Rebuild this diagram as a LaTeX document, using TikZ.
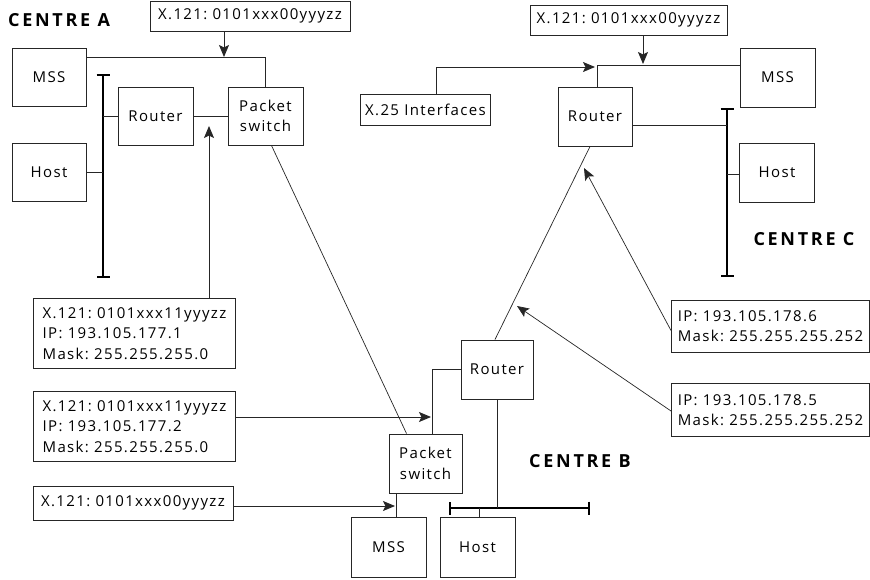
\documentclass[tikz,border=0pt]{standalone}
\usepackage{fontspec}
\setmainfont{Open Sans}[LetterSpace=9]
\usetikzlibrary{arrows.meta,calc}
\tikzset{
  x=1pt, y=-1pt,
  bx/.style={draw=black!85, line width=1pt, inner sep=0pt, align=center,
    font=\fontsize{15}{20.3}\selectfont},
  tb/.style={bx, anchor=north west, align=left},
  ln/.style={draw=black!85, line width=0.9pt},
  arr/.style={ln, -{Stealth[length=12pt,width=10pt,inset=2.5pt]}},
  bus/.style={line width=2.6pt, {Bar[width=13pt,line width=1.8pt]}-{Bar[width=13pt,line width=1.8pt]}},
  lbl/.style={font=\fontsize{18}{22}\bfseries\addfontfeature{LetterSpace=15}\selectfont, inner sep=0pt}
}
\begin{document}
\frenchspacing
\begin{tikzpicture}
\useasboundingbox (0,0) rectangle (870,579);
% ---------- Centre A
\node[lbl, anchor=west] (labA) at (8,20) {CENTRE A};
\node[bx, minimum width=200, minimum height=30] (ta) at (250,16) {X.121: 0101xxx00yyyzz};
\node[bx, minimum width=74, minimum height=58] (mssA) at (49,77) {MSS};
\node[bx, minimum width=74, minimum height=58] (hostA) at (49,172) {Host};
\node[bx, minimum width=75, minimum height=58] (routA) at (155.5,116) {Router};
\node[bx, minimum width=75, minimum height=58] (psA) at (265.5,116) {Packet\\switch};
\coordinate (busAt) at (103,74);
\coordinate (busAb) at (103,278);
\draw[bus] (busAt) -- (busAb);
\node[tb, minimum width=202, minimum height=70] (boxA1) at (33,298)
  {X.121: 0101xxx11yyyzz\\IP: 193.105.177.1\\Mask: 255.255.255.0};
% ---------- Centre B
\node[tb, minimum width=202, minimum height=70] (boxB2) at (33,391)
  {X.121: 0101xxx11yyyzz\\IP: 193.105.177.2\\Mask: 255.255.255.0};
\node[bx, minimum width=200, minimum height=34] (boxB3) at (133,503) {X.121: 0101xxx00yyyzz};
\node[bx, minimum width=73, minimum height=59] (psB) at (425.5,463.5) {Packet\\switch};
\node[bx, minimum width=75, minimum height=60] (mssB) at (388.5,547) {MSS};
\node[bx, minimum width=75, minimum height=60] (hostB) at (477.5,547) {Host};
\node[bx, minimum width=72, minimum height=59] (routB) at (497,369.5) {Router};
\coordinate (busBl) at (449,508);
\coordinate (busBr) at (590,508);
\draw[bus] (busBl) -- (busBr);
\node[lbl] (labB) at (580,461) {CENTRE B};
% ---------- Centre C
\node[bx, minimum width=197, minimum height=30] (tc) at (628.5,20) {X.121: 0101xxx00yyyzz};
\node[bx, minimum width=130, minimum height=31] (x25) at (425.5,109.5) {X.25 Interfaces};
\node[bx, minimum width=75, minimum height=59] (mssC) at (777.5,77.5) {MSS};
\node[bx, minimum width=74, minimum height=59] (routC) at (595,116.5) {Router};
\node[bx, minimum width=75, minimum height=59] (hostC) at (777,172.5) {Host};
\coordinate (busCt) at (727,108);
\coordinate (busCb) at (727,277);
\draw[bus] (busCt) -- (busCb);
\node[lbl] (labC) at (804,239) {CENTRE C};
\node[tb, minimum width=198, minimum height=52] (ip6) at (671,300)
  {IP: 193.105.178.6\\Mask: 255.255.255.252};
\node[tb, minimum width=198, minimum height=53] (ip5) at (671,383)
  {IP: 193.105.178.5\\Mask: 255.255.255.252};
% ---------- connectors Centre A
\draw[ln] ($(mssA.north east)+(0,10)$) -| (psA.north);
\coordinate (taT) at (224,57);
\draw[arr] (ta.south -| taT) -- (taT);
\draw[ln] (routA.west) -- (routA.west -| busAt);
\draw[ln] (hostA.east) -- (hostA.east -| busAt);
\draw[ln] (routA.east) -- (psA.west);
\coordinate (aA) at (209,126);
\draw[arr] (boxA1.north -| aA) -- (aA);
\coordinate (psAb) at ($(psA.south)+(6,0)$);
\coordinate (psBt) at ($(psB.north)+(-19,0)$);
\draw[ln, line width=0.7pt] (psAb) -- (psBt);
% ---------- connectors Centre B
\coordinate (aB2) at (431,417);
\draw[arr] (boxB2.east |- aB2) -- (aB2);
\coordinate (psBr) at ($(psB.north)+(7,0)$);
\draw[ln] (psBr) |- (routB.west);
\coordinate (aB3) at (395,506);
\draw[arr] (boxB3.east |- aB3) -- (aB3);
\coordinate (psBb) at ($(psB.south)+(-29.5,0)$);
\draw[ln] (psBb) -- (psBb |- mssB.north);
\draw[ln] (routB.south) -- (routB.south |- busBl);
\coordinate (hBt) at ($(hostB.north)+(1.5,0)$);
\draw[ln] (hBt) -- (hBt |- busBl);
\coordinate (rBt) at ($(routB.north)+(-2,0)$);
\coordinate (rCb) at ($(routC.south)+(-5,0)$);
\draw[ln, line width=0.7pt] (rBt) -- (rCb);
\coordinate (a5) at (517,306);
\coordinate (ip5w) at ($(ip5.west)+(0,1)$);
\draw[arr, line width=0.7pt] (ip5w) -- (a5);
\coordinate (a6) at (584,168);
\coordinate (ip6w) at ($(ip6.west)+(0,4)$);
\draw[arr, line width=0.7pt] (ip6w) -- (a6);
% ---------- connectors Centre C
\coordinate (tcT) at (643,64);
\draw[arr] (tc.south -| tcT) -- (tcT);
\coordinate (rCt) at ($(routC.north)+(2,0)$);
\coordinate (mCw) at ($(mssC.north west)+(0,18)$);
\draw[ln] (rCt) |- (mCw);
\coordinate (aX) at (595,67);
\coordinate (x25t) at ($(x25.north)+(11,0)$);
\draw[arr] (x25t) |- (aX);
\coordinate (rCe) at ($(routC.east)+(0,8.5)$);
\draw[ln] (rCe) -- (rCe -| busCt);
\coordinate (hCw) at ($(hostC.west)+(0,1.5)$);
\draw[ln] (hCw) -- (hCw -| busCt);
\end{tikzpicture}
\end{document}
